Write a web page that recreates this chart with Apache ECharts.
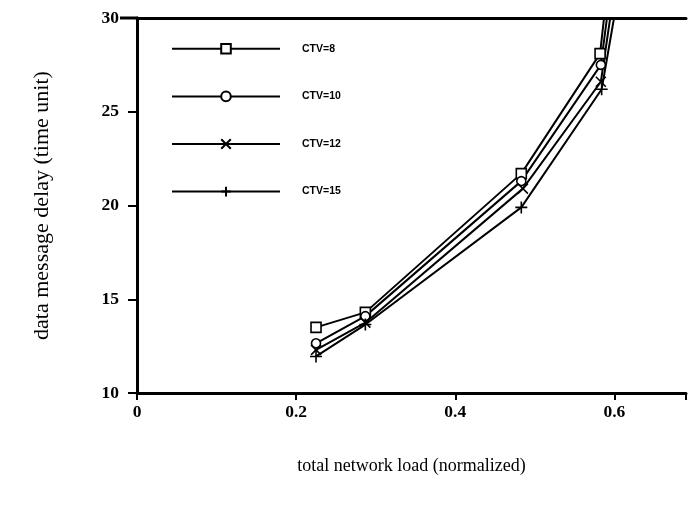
<!DOCTYPE html>
<html><head><meta charset="utf-8">
<script src="https://cdn.jsdelivr.net/npm/echarts@6/dist/echarts.min.js"></script>
<style>html,body{margin:0;padding:0;background:#fff}#c{width:689px;height:517px}</style>
</head><body><div id="c"></div>
<script>
// x = total network load (normalized), y = data message delay (time unit)
const loads8  = [0.225, 0.287, 0.483, 0.582, 0.600];
const ctv8    = [13.5, 14.3, 21.7, 28.1, 35];
const loads10 = [0.225, 0.287, 0.483, 0.583, 0.606];
const ctv10   = [12.65, 14.1, 21.3, 27.5, 35];
const loads12 = [0.225, 0.287, 0.485, 0.583, 0.612];
const ctv12   = [12.3, 13.75, 20.9, 26.6, 35];
const loads15 = [0.225, 0.287, 0.483, 0.584, 0.620];
const ctv15   = [11.95, 13.65, 19.9, 26.2, 35];
const seriesNames = ['CTV=8', 'CTV=10', 'CTV=12', 'CTV=15'];
const xTicks = [0, 0.2, 0.4, 0.6];
const yTicks = [10, 15, 20, 25, 30];

const symX = 'path://M0,0L10,10M10,0L0,10';
const symPlus = 'path://M5,0L5,10M0,5L10,5';
const symbols = ['rect', 'circle', symX, symPlus];
const sizes = [10, 9, 10, 12];

function mk(name, xs, ys, sym, size) {
  return {
    name, type: 'line', clip: true,
    data: xs.map((x, i) => ({value: [x, ys[i]], symbol: ys[i] > 30 ? 'none' : sym})),
    symbol: sym, symbolSize: size, showSymbol: true,
    lineStyle: {color: '#000', width: 2},
    itemStyle: {color: '#fff', borderColor: '#000', borderWidth: 1.6},
    z: 3
  };
}

const chart = echarts.init(document.getElementById('c'), null, {renderer: 'canvas'});
chart.setOption({
  animation: false,
  backgroundColor: '#fff',
  grid: {left: 137, top: 18, right: 0, bottom: 124, containLabel: false},
  legend: {
    orient: 'vertical', left: 166, top: 38,
    itemWidth: 108, itemHeight: 12, itemGap: 36,
    data: seriesNames,
    textStyle: {fontFamily: 'Liberation Sans', fontWeight: 'bold', fontSize: 10.5, color: '#000', padding: [0, 0, 0, 17]},
    selectedMode: false
  },
  graphic: [{type: 'line', shape: {x1: 120, y1: 18, x2: 138, y2: 18}, style: {stroke: '#000', lineWidth: 3}}],
  xAxis: [{
    type: 'value', min: 0, max: 0.69, interval: 0.2,
    name: 'total network load (normalized)', nameLocation: 'middle', nameGap: 64,
    nameTextStyle: {fontFamily: 'Liberation Serif', fontSize: 18, color: '#000'},
    axisLine: {lineStyle: {color: '#000', width: 3}},
    axisTick: {show: true, length: 7, lineStyle: {color: '#000', width: 2}},
    axisLabel: {color: '#000', fontFamily: 'Liberation Serif', fontWeight: 'bold', fontSize: 17.5, margin: 10,
      formatter: v => xTicks.some(t => Math.abs(t - v) < 1e-9) ? String(+v.toFixed(1)) : ''},
    splitLine: {show: false}
  }, {
    type: 'value', position: 'top', min: 0, max: 0.69,
    axisLine: {lineStyle: {color: '#000', width: 3}},
    axisTick: {show: false}, axisLabel: {show: false}, splitLine: {show: false}
  }],
  yAxis: {
    type: 'value', min: 10, max: 30, interval: 5,
    name: 'data message delay (time unit)', nameLocation: 'middle', nameGap: 84,
    nameTextStyle: {fontFamily: 'Liberation Serif', fontSize: 22, color: '#000'},
    axisLine: {show: true, lineStyle: {color: '#000', width: 3}},
    axisTick: {show: true, length: 9, lineStyle: {color: '#000', width: 2}},
    axisLabel: {color: '#000', fontFamily: 'Liberation Serif', fontWeight: 'bold', fontSize: 17.5, margin: 18,
      formatter: v => yTicks.includes(v) ? String(v) : ''},
    splitLine: {show: false}
  },
  series: [
    mk(seriesNames[0], loads8, ctv8, symbols[0], sizes[0]),
    mk(seriesNames[1], loads10, ctv10, symbols[1], sizes[1]),
    mk(seriesNames[2], loads12, ctv12, symbols[2], sizes[2]),
    mk(seriesNames[3], loads15, ctv15, symbols[3], sizes[3])
  ]
});
</script></body></html>
